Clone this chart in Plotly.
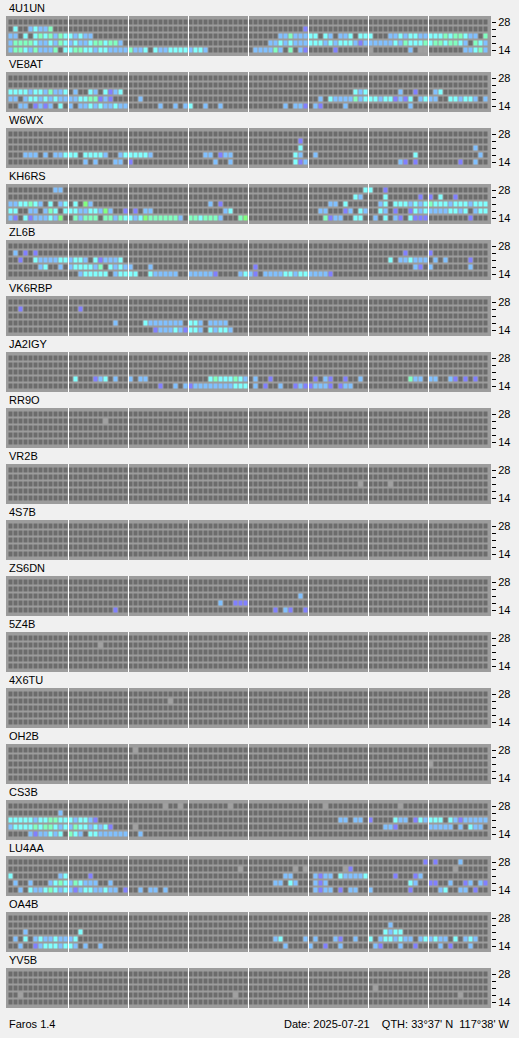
import plotly.graph_objects as go

CALLS = ["4U1UN", "VE8AT", "W6WX", "KH6RS", "ZL6B", "VK6RBP", "JA2IGY", "RR9O", "VR2B",
         "4S7B", "ZS6DN", "5Z4B", "4X6TU", "OH2B", "CS3B", "LU4AA", "OA4B", "YV5B"]
BANDS = ["28", "24", "21", "18", "14"]
BAND_LABELS = ["14", "", "", "", "28"]
FOOTER_LEFT = "Faros 1.4"
FOOTER_RIGHT = "Date: 2025-07-21\u00a0\u00a0\u00a0\u00a0QTH: 33°37' N\u00a0\u00a0117°38' W"

# cell codes: . none, g heard-no-decode, v/b/c/m/G increasing signal level
E = "............"

S_4U1UN = [
    " ".join([E] * 8),
    ".c..bcbbm... " + " ".join([E] * 3) + " ...........v " + " ".join([E] * 3),
    "bb.c.cmcmbmc cbcbb....... " + E + " " + E + " ......bbmbbb cc.cb.bbc.cc c...bbcbccbb cccmcmmcbb.m",
    "bmmmmcbbcbmc bcbbcmmcmmb. " + E + " " + E + " ....bbcbcbbb cccbcbcccbvb bbbbbcbmcccm cmmcmmcb.mcb",
    "bmmcbmbbbm.c cmmccbccbbbb mbbc.cbbcccc bccb........ .bbbbmb.m.bv .....v...... g.......b.gg .......bbcmb",
]
S_VE8AT = [
    " ".join([E] * 8),
    " ".join([E] * 8),
    "ccccbccbmbbc .b..cb.cvbc. " + " ".join([E] * 3) + " .........cbc ......b..v.. .bc.........",
    "bb.bccbcbcbb bbccmmvbv... ..b......... " + E + " " + E + " ..b.cbbbbmbc ccbccvbvc.bc bb..ccbccb.b",
    "..bb.vbvb.c. b.bbcbcbbcbb ......b..b.b c..b..b..... .......b.bbv .bv....b.... ........b... " + E,
]
S_W6WX = [
    " ".join([E] * 8),
    " ".join([E] * 4) + " ..........v. " + " ".join([E] * 3),
    " ".join([E] * 4) + " ..........c. " + E + " " + E + " .........b..",
    "...bbb.b.bbc cc.ccccb..bc ccccb....... ...bb.vbb... .........cb. .b.......... .........c.. ..........b.",
    E + " ...b.b...bb. v........... .....b..b... .........cvb " + E + " ......bv.v.. ......v..b..",
]
S_KH6RS = [
    ".........bb. " + " ".join([E] * 4) + " ...........c c..v........ " + E,
    " ".join([E] * 5) + " .........cb. ...c......v. v.c..v......",
    "bbccmcb.c.bc .c.Gb....... " + E + " ....b.v..... " + E + " ....bb.c.... ..bc.cccbcbc mcccbcccbccc",
    "cc..bb.bmc.c ccbbccbGb..v .v.bb....... .......bc... " + E + " ..bb...vb.cb ..cb.v..vcbc bbbbccbc.bcc",
    "bv.cvbbbcbG. .mbmmm.mmbmc cbcGmmmmmmb. mmcmmmb...mG " + E + " ...mvbb..cc. .b.c.bv.cvvv ........v...",
]
S_ZL6B = [
    " ".join([E] * 8),
    ".b.v.v...... " + " ".join([E] * 5) + " .......v.... v...........",
    "..v..cbbbbcc bccb.cvbbbc. " + " ".join([E] * 4) + " ....c.bbcbbb .b.b....v...",
    "......bc..b. bccccbm.cbcb b...b....... " + E + " .v.......... " + E + " .........bv. b.......b...",
    E + " ..bccccc.bcc cc..cbbbbb.. bbbbbv....bc bv.bbbbccbcc bbbbv....... " + E + " " + E,
]
S_VK6RBP = [
    " ".join([E] * 8),
    "..v......... ..v......... " + " ".join([E] * 6),
    " ".join([E] * 8),
    E + " .........b.. ...cbbbbbbb. ccb.bbbb.... " + " ".join([E] * 4),
    E + " " + E + " .....vbbbcbv ccb.cbccb... " + " ".join([E] * 4),
]
S_JA2IGY = [
    " ".join([E] * 8),
    " ".join([E] * 8),
    " ".join([E] * 8),
    E + " .c...vbc.b.. b.bb........ ....cmcccmcb .b..v....... .v.bv..v..b. ........mbb. bb..bv.v.v..",
    E + " " + E + " ......v..b.b vbbbbbbbbccc .b.v..b..vbv vbbbv.vbb... " + E + " " + E,
]
S_RR9O = [
    " ".join([E] * 8),
    E + " .......g.... " + " ".join([E] * 6),
    " ".join([E] * 8),
    " ".join([E] * 8),
    " ".join([E] * 8),
]
S_VR2B = [
    " ".join([E] * 8),
    " ".join([E] * 8),
    " ".join([E] * 5) + " ..........g. ....g....... " + E,
    " ".join([E] * 8),
    " ".join([E] * 8),
]
S_4S7B = [" ".join([E] * 8)] * 5
S_ZS6DN = [
    " ".join([E] * 8),
    " ".join([E] * 8),
    " ".join([E] * 4) + " ..........b. " + " ".join([E] * 3),
    " ".join([E] * 3) + " ......b..vvv " + " ".join([E] * 4),
    E + " .........v.. " + E + " " + E + " .....v.bv..v " + " ".join([E] * 3),
]
S_5Z4B = [
    " ".join([E] * 8),
    E + " ......g..... " + " ".join([E] * 6),
    " ".join([E] * 8),
    " ".join([E] * 8),
    " ".join([E] * 8),
]
S_4X6TU = [
    " ".join([E] * 8),
    E + " " + E + " ........g... " + " ".join([E] * 5),
    " ".join([E] * 8),
    " ".join([E] * 8),
    " ".join([E] * 8),
]
S_OH2B = [
    E + " " + E + " .g.......... " + " ".join([E] * 5),
    " ".join([E] * 8),
    " ".join([E] * 7) + " g...........",
    " ".join([E] * 8),
    " ".join([E] * 8),
]
S_CS3B = [
    E + " " + E + " .......g..g. ........g... " + E + " ...g........ ......g..... " + E,
    "..........b. " + " ".join([E] * 7),
    "cccccbccmmcc cbccbv...... " + " ".join([E] * 3) + " ......bb.bb. v....cbb.vcb ccc.cbvbbbbb",
    "bccccmcmmcbc bmccbcbcv... .g.......... " + " ".join([E] * 3) + " ...bbv...... bbbbb.b.cbb.",
    "....bvbbcbc. mcb.ccbbbbbb ..b......... " + " ".join([E] * 5),
]
S_LU4AA = [
    " ".join([E] * 6) + " ...........v .v....b.....",
    " ".join([E] * 3) + " ..........g. .........g.g .......gv... " + E + " .....g......",
    "c.........bc ....v....... " + E + " " + E + " .......bb... .bvbb.cbbbbc .....v...vb. " + E,
    ".b..b...bcmc bmcbbb..b... " + E + " " + E + " .....bb.cb.. .bvb........ ........cb.. vv..b..vb.bv",
    "..b.cbbcmcbc bvbccbbcbb.v ..b.bb.b.... " + E + " " + E + " .bvbb.v.bb.. b.......v... ..bc..bb.v..",
]
S_OA4B = [
    " ".join([E] * 8),
    " ".join([E] * 6) + " ....b....... " + E,
    "...b........ ..c......... " + " ".join([E] * 4) + " ...cbcc..... " + E,
    ".b.c.bcbbcbb bc.......... " + E + " " + E + " .....bc....b .b...bv..b.. c.bccbcbb.bc bcbb.c.bcb..",
    "..b..vbcccbc cb.b..b..... " + E + " " + E + " .......b.... b..v..b..... .bv...b..v.. ..b.v...b...",
]
S_YV5B = [
    " ".join([E] * 8),
    " ".join([E] * 8),
    " ".join([E] * 6) + " .g.......... " + E,
    "..g......... " + E + " " + E + " .........g.. " + " ".join([E] * 3) + " ......g.....",
    " ".join([E] * 8),
]
SERIES = [S_4U1UN, S_VE8AT, S_W6WX, S_KH6RS, S_ZL6B, S_VK6RBP, S_JA2IGY, S_RR9O, S_VR2B,
          S_4S7B, S_ZS6DN, S_5Z4B, S_4X6TU, S_OH2B, S_CS3B, S_LU4AA, S_OA4B, S_YV5B]

CODES = ".gvbcmG"
COLORS = ["#6c6c6c", "#a0a0a0", "#8080ff", "#80c0ff", "#80ffff", "#80ffc0", "#80ff80"]
NCOL = 96
W, H = 519, 1038
GX0, GX1 = 6, 491
PITCH = 56
GTOP = 16
GH = 40


def parse(rows):
    z = []
    for r in rows:
        s = r.replace(" ", "")
        s = (s + "." * NCOL)[:NCOL]
        z.append([CODES.index(ch) for ch in s])
    return z


colorscale = [[k / (len(COLORS) - 1), c] for k, c in enumerate(COLORS)]

fig = go.Figure()
layout = dict(
    width=W, height=H, margin=dict(l=0, r=0, t=0, b=0),
    paper_bgcolor="#f0f0f0", plot_bgcolor="#9c9c9c", showlegend=False,
    font=dict(family="Liberation Sans, Arial, sans-serif", size=11, color="#000000"),
)
shapes = []
annotations = []
pad_rows = (GH / 7 - 5) / 2

for i, (call, rows) in enumerate(zip(CALLS, SERIES)):
    k = i + 1
    xa = "x" if k == 1 else f"x{k}"
    ya = "y" if k == 1 else f"y{k}"
    z = parse(rows)[::-1]
    fig.add_trace(go.Heatmap(
        z=z, x=list(range(NCOL)), y=list(range(len(BANDS))),
        zmin=0, zmax=len(COLORS) - 1, colorscale=colorscale, showscale=False,
        xgap=1, ygap=2, hoverinfo="skip", xaxis=xa, yaxis=ya,
    ))
    top = GTOP + PITCH * i
    layout[f"xaxis{k}"] = dict(
        domain=[GX0 / W, GX1 / W], range=[-1, NCOL], anchor=ya,
        showgrid=False, zeroline=False, showticklabels=False, ticks="", fixedrange=True,
    )
    layout[f"yaxis{k}"] = dict(
        domain=[1 - (top + GH) / H, 1 - top / H], anchor=xa,
        range=[-0.5 - pad_rows, 4.5 + pad_rows], side="right",
        tickmode="array", tickvals=list(range(5)), ticktext=BAND_LABELS,
        ticks="outside", ticklen=4, tickwidth=1, tickcolor="#000000",
        tickfont=dict(size=11, color="#000000"),
        showgrid=False, zeroline=False, showline=False, fixedrange=True,
    )
    for b in range(1, 8):
        xs = 12 * b - 0.5
        shapes.append(dict(type="line", xref=xa, yref=f"{ya} domain", x0=xs, x1=xs, y0=0, y1=1,
                           line=dict(color="#ffffff", width=1)))
    annotations.append(dict(text=call, xref="paper", yref="paper", x=7 / W, y=1 - (top - 8) / H,
                            xanchor="left", yanchor="middle", showarrow=False,
                            font=dict(size=11, color="#000000")))

annotations.append(dict(text=FOOTER_LEFT, xref="paper", yref="paper", x=7 / W, y=1 - 1024 / H,
                        xanchor="left", yanchor="middle", showarrow=False, font=dict(size=11)))
annotations.append(dict(text=FOOTER_RIGHT, xref="paper", yref="paper", x=512 / W, y=1 - 1024 / H,
                        xanchor="right", yanchor="middle", showarrow=False, font=dict(size=11)))

layout["shapes"] = shapes
layout["annotations"] = annotations
fig.update_layout(**layout)
fig.write_html(
    "out.html",
    config={"displayModeBar": False},
    post_script="document.body.style.margin='0';document.body.style.background='#f0f0f0';",
)
